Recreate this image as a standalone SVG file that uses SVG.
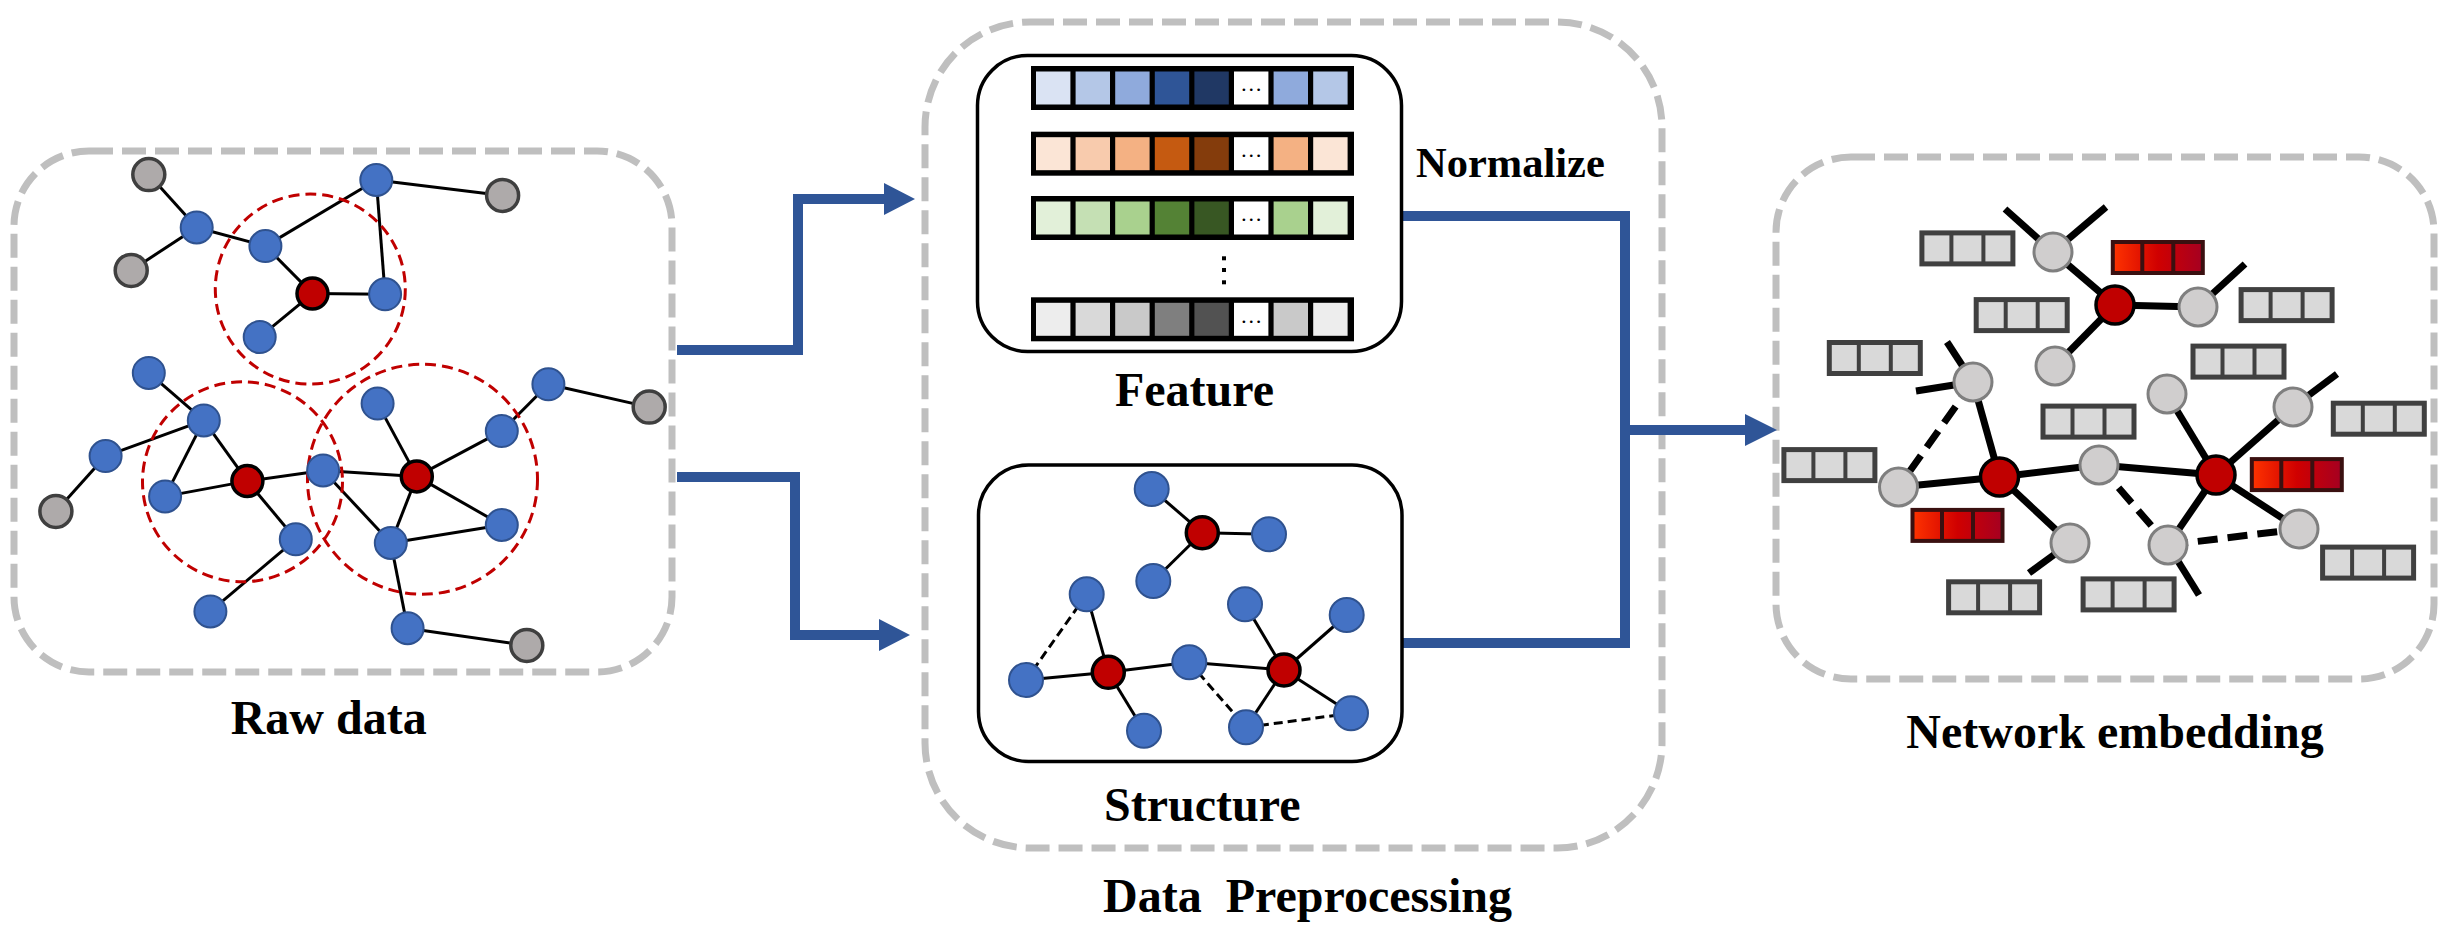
<svg xmlns="http://www.w3.org/2000/svg" xmlns:xlink="http://www.w3.org/1999/xlink" width="2458" height="929" viewBox="0 0 2458 929">
<style>
.panel{fill:none;stroke:#BFBFBF;stroke-width:7;stroke-dasharray:24 9}
.box{fill:#fff;stroke:#000;stroke-width:3.5}
.lbl{font-family:"Liberation Serif","Times New Roman",serif;font-weight:bold;font-size:48px;fill:#000}
.e{stroke:#000;stroke-width:3;fill:none}
.ed{stroke:#000;stroke-width:3;fill:none;stroke-dasharray:9 5}
.ne{stroke:#000;stroke-width:7;fill:none}
.ned{stroke:#000;stroke-width:7;fill:none;stroke-dasharray:20 10}
.hood{fill:none;stroke:#C00000;stroke-width:3;stroke-dasharray:11 6}
.b{fill:#4472C4;stroke:#2F528F;stroke-width:2}
.g{fill:#AEAAAA;stroke:#3F3F3F;stroke-width:3.5}
.r{fill:#C00000;stroke:#000;stroke-width:3.5}
.ng{fill:#D0CECE;stroke:#7F7F7F;stroke-width:3}
.conn{fill:none;stroke:#2F5597;stroke-width:10;stroke-linejoin:miter}
.head{fill:#2F5597}
.frame{fill:#000}
.dots{font-family:"Liberation Serif","Times New Roman",serif;font-size:22px;fill:#000;text-anchor:middle}
</style>
<defs>
<linearGradient id="rg" x1="0" y1="0" x2="1" y2="0">
<stop offset="0" stop-color="#FF3300"/>
<stop offset="0.5" stop-color="#D00000"/>
<stop offset="1" stop-color="#A50021"/>
</linearGradient>
<g id="vg">
<rect x="2.5" y="2.5" width="91" height="31" fill="#D9D9D9" stroke="#404040" stroke-width="5"/>
<line x1="32" y1="2.5" x2="32" y2="33.5" stroke="#404040" stroke-width="4"/>
<line x1="64" y1="2.5" x2="64" y2="33.5" stroke="#404040" stroke-width="4"/>
</g>
<g id="vr">
<rect x="2" y="2" width="90" height="31" fill="url(#rg)" stroke="#3A1010" stroke-width="4"/>
<line x1="31.5" y1="2" x2="31.5" y2="33" stroke="#3A1010" stroke-width="4"/>
<line x1="62.5" y1="2" x2="62.5" y2="33" stroke="#3A1010" stroke-width="4"/>
</g>
</defs>
<rect width="2458" height="929" fill="#fff"/>

<!-- Panels -->
<g id="panel-raw">
<rect class="panel" x="14" y="151" width="658" height="521" rx="75" ry="75"/>
<text class="lbl" x="328.7" y="734" text-anchor="middle">Raw data</text>
</g>
<g id="panel-pre">
<rect class="panel" x="925" y="22" width="737" height="826" rx="105" ry="105"/>
<text class="lbl" x="1307.5" y="911.7" text-anchor="middle" xml:space="preserve">Data  Preprocessing</text>
</g>
<g id="panel-emb">
<rect class="panel" x="1776" y="157" width="658" height="522" rx="75" ry="75"/>
<text class="lbl" x="2115" y="748.3" text-anchor="middle">Network embedding</text>
</g>

<!-- Connectors -->
<g id="connectors">
<polyline class="conn" points="677,350 798,350 798,199 886,199"/>
<polygon class="head" points="884,183 915,199 884,215"/>
<polyline class="conn" points="677,477 795,477 795,635 881,635"/>
<polygon class="head" points="879,619 910,635 879,651"/>
<polyline class="conn" points="1403,216 1625,216 1625,643 1403,643"/>
<line class="conn" x1="1625" y1="430" x2="1748" y2="430"/>
<polygon class="head" points="1745,414 1777,430 1745,446"/>
</g>

<!-- Raw data graph -->
<g id="raw-graph">
<g id="raw-edges">
<line class="e" x1="148.8" y1="174.6" x2="196.7" y2="227.5"/>
<line class="e" x1="131.2" y1="270.4" x2="196.7" y2="227.5"/>
<line class="e" x1="196.7" y1="227.5" x2="265.4" y2="246.1"/>
<line class="e" x1="265.4" y1="246.1" x2="376.3" y2="180"/>
<line class="e" x1="376.3" y1="180" x2="502.6" y2="195.4"/>
<line class="e" x1="376.3" y1="180" x2="385.1" y2="294.3"/>
<line class="e" x1="265.4" y1="246.1" x2="312.5" y2="293.6"/>
<line class="e" x1="312.5" y1="293.6" x2="385.1" y2="294.3"/>
<line class="e" x1="312.5" y1="293.6" x2="259.7" y2="337.1"/>
<line class="e" x1="148.8" y1="372.9" x2="203.8" y2="420.4"/>
<line class="e" x1="203.8" y1="420.4" x2="105.6" y2="456.1"/>
<line class="e" x1="105.6" y1="456.1" x2="55.9" y2="511.4"/>
<line class="e" x1="203.8" y1="420.4" x2="165.1" y2="496.4"/>
<line class="e" x1="203.8" y1="420.4" x2="247.4" y2="481.1"/>
<line class="e" x1="165.1" y1="496.4" x2="247.4" y2="481.1"/>
<line class="e" x1="247.4" y1="481.1" x2="323.1" y2="470.4"/>
<line class="e" x1="247.4" y1="481.1" x2="295.8" y2="539.3"/>
<line class="e" x1="295.8" y1="539.3" x2="210.4" y2="611.4"/>
<line class="e" x1="323.1" y1="470.4" x2="416.8" y2="476.4"/>
<line class="e" x1="323.1" y1="470.4" x2="390.8" y2="542.9"/>
<line class="e" x1="377.6" y1="403.6" x2="416.8" y2="476.4"/>
<line class="e" x1="416.8" y1="476.4" x2="501.8" y2="431.1"/>
<line class="e" x1="501.8" y1="431.1" x2="548.4" y2="384.3"/>
<line class="e" x1="548.4" y1="384.3" x2="649.2" y2="407.1"/>
<line class="e" x1="416.8" y1="476.4" x2="501.8" y2="525"/>
<line class="e" x1="416.8" y1="476.4" x2="390.8" y2="542.9"/>
<line class="e" x1="390.8" y1="542.9" x2="501.8" y2="525"/>
<line class="e" x1="390.8" y1="542.9" x2="407.6" y2="628.2"/>
<line class="e" x1="407.6" y1="628.2" x2="526.8" y2="645.4"/>
</g>
<g id="raw-neighbourhoods">
<circle class="hood" cx="310.3" cy="289.1" r="95"/>
<circle class="hood" cx="242.5" cy="481.8" r="100"/>
<circle class="hood" cx="422.5" cy="479.3" r="115"/>
</g>
<g id="raw-nodes">
<circle id="rg1" class="g" cx="148.8" cy="174.6" r="16"/>
<circle id="rg2" class="g" cx="131.2" cy="270.4" r="16"/>
<circle id="rg3" class="g" cx="502.6" cy="195.4" r="16"/>
<circle id="rg4" class="g" cx="649.2" cy="407.1" r="16"/>
<circle id="rg5" class="g" cx="55.9" cy="511.4" r="16"/>
<circle id="rg6" class="g" cx="526.8" cy="645.4" r="16"/>
<circle id="rb1" class="b" cx="196.7" cy="227.5" r="16"/>
<circle id="rb2" class="b" cx="265.4" cy="246.1" r="16"/>
<circle id="rb3" class="b" cx="376.3" cy="180" r="16"/>
<circle id="rb4" class="b" cx="385.1" cy="294.3" r="16"/>
<circle id="rb5" class="b" cx="259.7" cy="337.1" r="16"/>
<circle id="rb6" class="b" cx="148.8" cy="372.9" r="16"/>
<circle id="rb7" class="b" cx="203.8" cy="420.4" r="16"/>
<circle id="rb8" class="b" cx="105.6" cy="456.1" r="16"/>
<circle id="rb9" class="b" cx="165.1" cy="496.4" r="16"/>
<circle id="rb10" class="b" cx="295.8" cy="539.3" r="16"/>
<circle id="rb11" class="b" cx="210.4" cy="611.4" r="16"/>
<circle id="rb12" class="b" cx="323.1" cy="470.4" r="16"/>
<circle id="rb13" class="b" cx="377.6" cy="403.6" r="16"/>
<circle id="rb14" class="b" cx="501.8" cy="431.1" r="16"/>
<circle id="rb15" class="b" cx="548.4" cy="384.3" r="16"/>
<circle id="rb16" class="b" cx="501.8" cy="525" r="16"/>
<circle id="rb17" class="b" cx="390.8" cy="542.9" r="16"/>
<circle id="rb18" class="b" cx="407.6" cy="628.2" r="16"/>
<circle id="rr1" class="r" cx="312.5" cy="293.6" r="15.5"/>
<circle id="rr2" class="r" cx="247.4" cy="481.1" r="15.5"/>
<circle id="rr3" class="r" cx="416.8" cy="476.4" r="15.5"/>
</g>
</g>

<!-- Feature box -->
<g id="feature">
<rect class="box" x="977.5" y="55.5" width="424" height="296" rx="50" ry="50"/>
<g id="feat-row1">
<rect class="frame" x="1031" y="66" width="323" height="44"/>
<rect x="1036" y="71.5" width="34.4" height="33" fill="#DAE3F3"/>
<rect x="1075.6" y="71.5" width="34.4" height="33" fill="#B4C7E7"/>
<rect x="1115.2" y="71.5" width="34.4" height="33" fill="#8FAADC"/>
<rect x="1154.8" y="71.5" width="34.4" height="33" fill="#2F5597"/>
<rect x="1194.4" y="71.5" width="34.4" height="33" fill="#203864"/>
<rect x="1234" y="71.5" width="34.4" height="33" fill="#FFFFFF"/>
<rect x="1273.6" y="71.5" width="34.4" height="33" fill="#8FAADC"/>
<rect x="1313.2" y="71.5" width="34.4" height="33" fill="#B4C7E7"/>
<text class="dots" x="1251.2" y="91">…</text>
</g>
<g id="feat-row2">
<rect class="frame" x="1031" y="131.7" width="323" height="44"/>
<rect x="1036" y="137.2" width="34.4" height="33" fill="#FBE5D6"/>
<rect x="1075.6" y="137.2" width="34.4" height="33" fill="#F8CBAD"/>
<rect x="1115.2" y="137.2" width="34.4" height="33" fill="#F4B183"/>
<rect x="1154.8" y="137.2" width="34.4" height="33" fill="#C55A11"/>
<rect x="1194.4" y="137.2" width="34.4" height="33" fill="#843C0C"/>
<rect x="1234" y="137.2" width="34.4" height="33" fill="#FFFFFF"/>
<rect x="1273.6" y="137.2" width="34.4" height="33" fill="#F4B183"/>
<rect x="1313.2" y="137.2" width="34.4" height="33" fill="#FBE5D6"/>
<text class="dots" x="1251.2" y="157">…</text>
</g>
<g id="feat-row3">
<rect class="frame" x="1031" y="196" width="323" height="44"/>
<rect x="1036" y="201.5" width="34.4" height="33" fill="#E2F0D9"/>
<rect x="1075.6" y="201.5" width="34.4" height="33" fill="#C5E0B4"/>
<rect x="1115.2" y="201.5" width="34.4" height="33" fill="#A9D18E"/>
<rect x="1154.8" y="201.5" width="34.4" height="33" fill="#548235"/>
<rect x="1194.4" y="201.5" width="34.4" height="33" fill="#385723"/>
<rect x="1234" y="201.5" width="34.4" height="33" fill="#FFFFFF"/>
<rect x="1273.6" y="201.5" width="34.4" height="33" fill="#A9D18E"/>
<rect x="1313.2" y="201.5" width="34.4" height="33" fill="#E2F0D9"/>
<text class="dots" x="1251.2" y="221">…</text>
</g>
<g id="feat-vdots">
<rect x="1222" y="256.3" width="4" height="4" fill="#000"/>
<rect x="1222" y="268" width="4" height="4" fill="#000"/>
<rect x="1222" y="280.3" width="4" height="4" fill="#000"/>
</g>
<g id="feat-row4">
<rect class="frame" x="1031" y="297.3" width="323" height="44"/>
<rect x="1036" y="302.8" width="34.4" height="33" fill="#EDEDED"/>
<rect x="1075.6" y="302.8" width="34.4" height="33" fill="#D9D9D9"/>
<rect x="1115.2" y="302.8" width="34.4" height="33" fill="#C9C9C9"/>
<rect x="1154.8" y="302.8" width="34.4" height="33" fill="#7F7F7F"/>
<rect x="1194.4" y="302.8" width="34.4" height="33" fill="#525252"/>
<rect x="1234" y="302.8" width="34.4" height="33" fill="#FFFFFF"/>
<rect x="1273.6" y="302.8" width="34.4" height="33" fill="#C9C9C9"/>
<rect x="1313.2" y="302.8" width="34.4" height="33" fill="#EDEDED"/>
<text class="dots" x="1251.2" y="322.5">…</text>
</g>
<text class="lbl" x="1194.5" y="405.7" text-anchor="middle">Feature</text>
</g>

<g id="normalize-label">
<text class="lbl" x="1416" y="177" style="font-size:42.5px">Normalize</text>
</g>

<!-- Structure box -->
<g id="structure">
<rect class="box" x="978.5" y="465" width="423.5" height="296.5" rx="50" ry="50"/>
<g id="struct-edges">
<line class="e" x1="1151.7" y1="489" x2="1202.3" y2="532.7"/>
<line class="e" x1="1202.3" y1="532.7" x2="1269" y2="534.3"/>
<line class="e" x1="1202.3" y1="532.7" x2="1153.3" y2="581"/>
<line class="e" x1="1086.7" y1="594.3" x2="1108.3" y2="672.3"/>
<line class="e" x1="1026" y1="680" x2="1108.3" y2="672.3"/>
<line class="e" x1="1108.3" y1="672.3" x2="1144" y2="730.7"/>
<line class="e" x1="1108.3" y1="672.3" x2="1189.3" y2="662.3"/>
<line class="e" x1="1189.3" y1="662.3" x2="1284" y2="670"/>
<line class="e" x1="1245" y1="604.3" x2="1284" y2="670"/>
<line class="e" x1="1284" y1="670" x2="1346.7" y2="615"/>
<line class="e" x1="1284" y1="670" x2="1246" y2="727.3"/>
<line class="e" x1="1284" y1="670" x2="1351" y2="713.3"/>
<line class="ed" x1="1086.7" y1="594.3" x2="1026" y2="680"/>
<line class="ed" x1="1189.3" y1="662.3" x2="1246" y2="727.3"/>
<line class="ed" x1="1246" y1="727.3" x2="1351" y2="713.3"/>
</g>
<g id="struct-nodes">
<circle class="b" cx="1151.7" cy="489" r="17"/>
<circle class="b" cx="1269" cy="534.3" r="17"/>
<circle class="b" cx="1153.3" cy="581" r="17"/>
<circle class="b" cx="1086.7" cy="594.3" r="17"/>
<circle class="b" cx="1026" cy="680" r="17"/>
<circle class="b" cx="1144" cy="730.7" r="17"/>
<circle class="b" cx="1189.3" cy="662.3" r="17"/>
<circle class="b" cx="1245" cy="604.3" r="17"/>
<circle class="b" cx="1346.7" cy="615" r="17"/>
<circle class="b" cx="1246" cy="727.3" r="17"/>
<circle class="b" cx="1351" cy="713.3" r="17"/>
<circle class="r" cx="1202.3" cy="532.7" r="16"/>
<circle class="r" cx="1108.3" cy="672.3" r="16"/>
<circle class="r" cx="1284" cy="670" r="16"/>
</g>
<text class="lbl" x="1202.3" y="820.5" text-anchor="middle">Structure</text>
</g>

<!-- Network embedding -->
<g id="embedding">
<g id="emb-edges">
<line class="ne" x1="2053" y1="252" x2="2005" y2="209"/>
<line class="ne" x1="2053" y1="252" x2="2106" y2="207"/>
<line class="ne" x1="2198" y1="307" x2="2245" y2="264"/>
<line class="ne" x1="1973" y1="382" x2="1947" y2="342"/>
<line class="ne" x1="1973" y1="382" x2="1916" y2="391"/>
<line class="ne" x1="2293" y1="407" x2="2337" y2="374"/>
<line class="ne" x1="2070" y1="543" x2="2029" y2="573"/>
<line class="ne" x1="2168" y1="545" x2="2199" y2="595"/>
<line class="ne" x1="2053" y1="252" x2="2115" y2="305"/>
<line class="ne" x1="2115" y1="305" x2="2198" y2="307"/>
<line class="ne" x1="2115" y1="305" x2="2055" y2="366"/>
<line class="ne" x1="1973" y1="382" x2="1999.5" y2="477"/>
<line class="ne" x1="1898.5" y1="487" x2="1999.5" y2="477"/>
<line class="ne" x1="1999.5" y1="477" x2="2070" y2="543"/>
<line class="ne" x1="1999.5" y1="477" x2="2099" y2="465"/>
<line class="ne" x1="2099" y1="465" x2="2216" y2="475"/>
<line class="ne" x1="2167" y1="394" x2="2216" y2="475"/>
<line class="ne" x1="2216" y1="475" x2="2293" y2="407"/>
<line class="ne" x1="2216" y1="475" x2="2299" y2="529"/>
<line class="ne" x1="2216" y1="475" x2="2168" y2="545"/>
<line class="ned" x1="1973" y1="382" x2="1898.5" y2="487"/>
<line class="ned" x1="2099" y1="465" x2="2168" y2="545"/>
<line class="ned" x1="2168" y1="545" x2="2299" y2="529"/>
</g>
<g id="emb-nodes">
<circle id="en1" class="ng" cx="2053" cy="252" r="19"/>
<circle id="en2" class="ng" cx="2198" cy="307" r="19"/>
<circle id="en3" class="ng" cx="2055" cy="366" r="19"/>
<circle id="en4" class="ng" cx="1973" cy="382" r="19"/>
<circle id="en5" class="ng" cx="1898.5" cy="487" r="19"/>
<circle id="en6" class="ng" cx="2070" cy="543" r="19"/>
<circle id="en7" class="ng" cx="2099" cy="465" r="19"/>
<circle id="en8" class="ng" cx="2167" cy="394" r="19"/>
<circle id="en9" class="ng" cx="2293" cy="407" r="19"/>
<circle id="en10" class="ng" cx="2299" cy="529" r="19"/>
<circle id="en11" class="ng" cx="2168" cy="545" r="19"/>
<circle id="er1" class="r" cx="2115" cy="305" r="19"/>
<circle id="er2" class="r" cx="1999.5" cy="477" r="19"/>
<circle id="er3" class="r" cx="2216" cy="475" r="19"/>
</g>
<g id="emb-vectors">
<use xlink:href="#vg" href="#vg" x="1919.4" y="230.4"/>
<use xlink:href="#vg" href="#vg" x="1973.7" y="297.1"/>
<use xlink:href="#vg" href="#vg" x="1826.8" y="340"/>
<use xlink:href="#vg" href="#vg" x="2238.6" y="287.1"/>
<use xlink:href="#vg" href="#vg" x="2190.5" y="343.6"/>
<use xlink:href="#vg" href="#vg" x="2040.5" y="403.6"/>
<use xlink:href="#vg" href="#vg" x="2330.8" y="400.7"/>
<use xlink:href="#vg" href="#vg" x="1781.4" y="447.1"/>
<use xlink:href="#vg" href="#vg" x="2320.1" y="544.6"/>
<use xlink:href="#vg" href="#vg" x="1946.1" y="579.3"/>
<use xlink:href="#vg" href="#vg" x="2080.6" y="576.4"/>
<use xlink:href="#vr" href="#vr" x="2110.8" y="240"/>
<use xlink:href="#vr" href="#vr" x="2249.8" y="457.1"/>
<use xlink:href="#vr" href="#vr" x="1910.5" y="507.9"/>
</g>
</g>
</svg>
